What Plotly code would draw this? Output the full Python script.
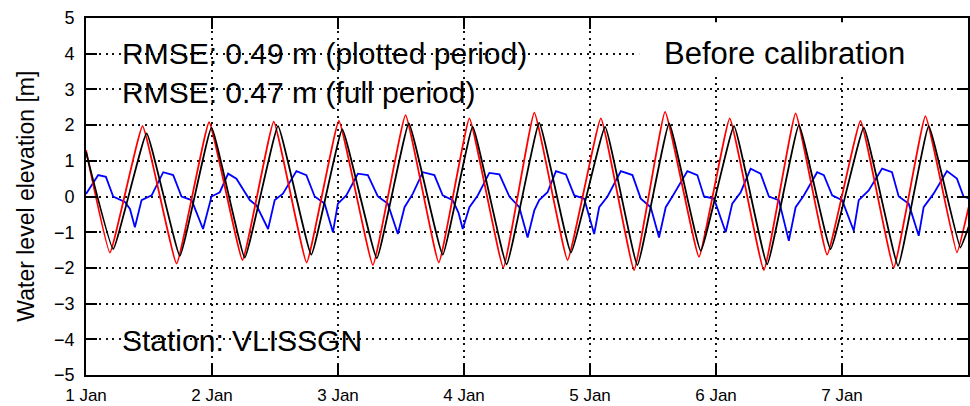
import plotly.graph_objects as go

# ---- data (x = day of January, y = water level [m]) ----
model_days = [1.000, 1.190, 1.449, 1.719, 1.977, 2.242, 2.490, 2.751, 3.007, 3.277,
              3.536, 3.800, 4.043, 4.312, 4.558, 4.822, 5.086, 5.350, 5.596, 5.865,
              6.109, 6.380, 6.632, 6.882, 7.147, 7.411, 7.662, 7.912, 8.005]
model_level = [1.30, -1.57, 1.97, -1.88, 2.08, -1.78, 2.10, -1.85, 2.12, -1.92,
               2.28, -1.85, 2.19, -1.99, 2.35, -1.78, 2.19, -2.06, 2.37, -1.69,
               2.19, -2.06, 2.33, -1.63, 2.12, -1.99, 2.25, -1.57, -0.30]

obs_days = [1.000, 1.216, 1.481, 1.745, 1.996, 2.260, 2.524, 2.788, 3.034, 3.308,
            3.562, 3.831, 4.069, 4.338, 4.597, 4.849, 5.120, 5.376, 5.628, 5.879,
            6.143, 6.406, 6.658, 6.909, 7.173, 7.445, 7.688, 7.939, 8.005]
obs_level = [1.25, -1.47, 1.77, -1.66, 1.93, -1.71, 1.97, -1.63, 1.88, -1.73,
             2.05, -1.63, 1.95, -1.90, 2.06, -1.57, 1.95, -1.92, 2.05, -1.52,
             1.97, -1.90, 2.00, -1.47, 1.93, -1.94, 1.97, -1.43, -0.85]

diff_days = [1.000, 1.097, 1.158, 1.216, 1.309, 1.349, 1.388, 1.441, 1.521, 1.613,
             1.692, 1.758, 1.838, 1.929, 1.996, 2.062, 2.128, 2.194, 2.300, 2.353,
             2.445, 2.498, 2.563, 2.670, 2.749, 2.815, 2.894, 2.960, 2.999, 3.066,
             3.158, 3.237, 3.316, 3.395, 3.475, 3.528, 3.594, 3.673, 3.765, 3.831,
             3.910, 3.956, 3.990, 4.043, 4.109, 4.201, 4.281, 4.360, 4.439, 4.505,
             4.558, 4.597, 4.663, 4.730, 4.809, 4.875, 4.954, 5.033, 5.073, 5.139,
             5.245, 5.337, 5.403, 5.482, 5.548, 5.601, 5.654, 5.773, 5.852, 5.905,
             5.984, 6.077, 6.129, 6.196, 6.275, 6.354, 6.420, 6.499, 6.578, 6.632,
             6.697, 6.803, 6.856, 6.922, 7.001, 7.093, 7.133, 7.212, 7.318, 7.397,
             7.450, 7.529, 7.609, 7.648, 7.727, 7.833, 7.912, 7.965, 8.005]
diff_level = [0.07, 0.60, 0.55, 0.00, -0.15, -0.35, -0.86, -0.10, 0.03, 0.68,
              0.60, 0.00, -0.10, -0.91, 0.00, 0.12, 0.64, 0.50, -0.10, -0.25,
              -0.91, -0.10, 0.08, 0.71, 0.60, 0.00, -0.20, -1.00, -0.20, 0.03,
              0.64, 0.60, 0.00, -0.20, -1.05, -0.30, 0.08, 0.68, 0.60, 0.03,
              -0.10, -0.45, -0.91, -0.30, 0.03, 0.66, 0.62, 0.00, -0.30, -1.15,
              -0.39, -0.10, 0.12, 0.71, 0.62, 0.03, -0.06, -1.05, -0.30, 0.00,
              0.71, 0.60, -0.06, -0.30, -1.15, -0.30, 0.00, 0.71, 0.60, 0.00,
              -0.06, -1.00, -0.20, 0.12, 0.78, 0.64, 0.00, -0.10, -1.24, -0.30,
              0.03, 0.68, 0.60, 0.03, -0.10, -0.96, -0.10, 0.17, 0.78, 0.68,
              0.00, -0.20, -1.10, -0.30, 0.08, 0.71, 0.50, 0.00, -0.05]

x_tick_vals = [1, 2, 3, 4, 5, 6, 7]
x_tick_text = ["1 Jan", "2 Jan", "3 Jan", "4 Jan", "5 Jan", "6 Jan", "7 Jan"]
y_tick_vals = [-5, -4, -3, -2, -1, 0, 1, 2, 3, 4, 5]

rmse_plotted = "RMSE: 0.49 m (plotted period)"
rmse_full = "RMSE: 0.47 m (full period)"
station = "Station: VLISSGN"
stage = "Before calibration"
y_title = "Water level elevation [m]"

FONT = "Liberation Sans, Arial, Helvetica, sans-serif"

fig = go.Figure()
fig.add_trace(go.Scatter(x=diff_days, y=diff_level, mode="lines",
                         line=dict(color="#0000ff", width=1.8), name="Difference"))
fig.add_trace(go.Scatter(x=model_days, y=model_level, mode="lines",
                         line=dict(color="#ff0000", width=1.8, shape="spline", smoothing=0.3),
                         name="Computed"))
fig.add_trace(go.Scatter(x=obs_days, y=obs_level, mode="lines",
                         line=dict(color="#000000", width=1.8, shape="spline", smoothing=0.3),
                         name="Observed"))

grid = dict(showgrid=True, gridcolor="#111111", gridwidth=1.5, griddash="2px,4.5px")

fig.update_xaxes(range=[1, 8], tickmode="array", tickvals=x_tick_vals, ticktext=x_tick_text,
                 ticks="inside", ticklen=11, tickwidth=1.8, tickcolor="black",
                 showline=True, linecolor="black", linewidth=1.8, mirror="ticks",
                 zeroline=False, ticklabelstandoff=4,
                 tickfont=dict(family=FONT, size=17, color="black"), **grid)
fig.update_yaxes(range=[-5, 5], tickmode="array", tickvals=y_tick_vals,
                 ticks="inside", ticklen=11, tickwidth=1.8, tickcolor="black",
                 showline=True, linecolor="black", linewidth=1.8, mirror="ticks",
                 zeroline=False, ticklabelstandoff=6,
                 tickfont=dict(family=FONT, size=18, color="black"), **grid)

# white box behind the stage label
fig.add_shape(type="rect", xref="x", yref="y", x0=5.39, x1=8.2, y0=3.35, y1=4.88,
              fillcolor="white", line=dict(width=0), layer="above")

txt = dict(family=FONT, size=30, color="black")
fig.add_annotation(x=1.27, y=4.0, xref="x", yref="y", text=rmse_plotted, showarrow=False,
                   xanchor="left", yanchor="middle", font=txt)
fig.add_annotation(x=1.27, y=2.92, xref="x", yref="y", text=rmse_full, showarrow=False,
                   xanchor="left", yanchor="middle", font=txt)
fig.add_annotation(x=1.27, y=-4.02, xref="x", yref="y", text=station, showarrow=False,
                   xanchor="left", yanchor="middle", font=txt)
fig.add_annotation(x=6.547, y=4.0, xref="x", yref="y", text=stage, showarrow=False,
                   xanchor="center", yanchor="middle",
                   font=dict(family=FONT, size=31, color="black"))
fig.add_annotation(x=-0.069, y=0.5, xref="paper", yref="paper",
                   text=y_title, showarrow=False, textangle=-90,
                   xanchor="center", yanchor="middle",
                   font=dict(family=FONT, size=23, color="black"))

fig.update_layout(width=970, height=406, margin=dict(l=86, r=0, t=18, b=31, pad=0),
                  paper_bgcolor="white", plot_bgcolor="white", showlegend=False)

fig.write_html("out.html", config={"displayModeBar": False},
               post_script="document.body.style.margin='0';document.body.style.overflow='hidden';")
